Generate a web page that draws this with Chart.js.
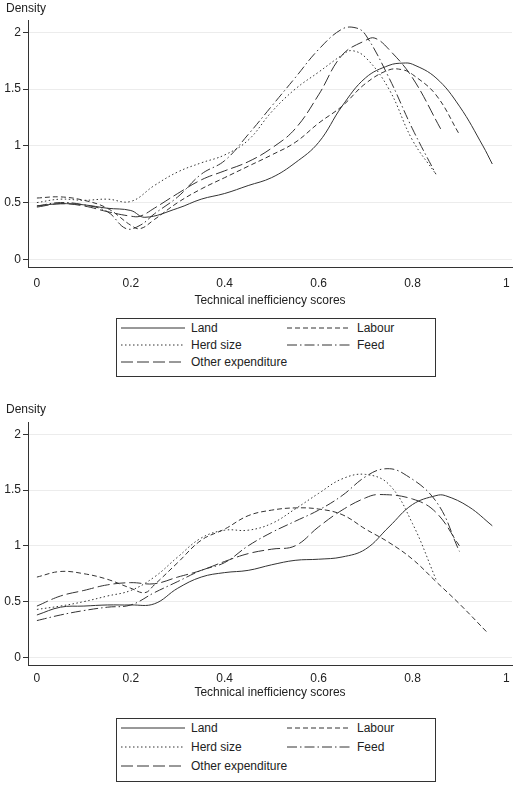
<!DOCTYPE html>
<html>
<head>
<meta charset="utf-8">
<script src="https://cdn.jsdelivr.net/npm/chart.js@4"></script>
<style>
  body { margin: 0; background: #fff; font-family: "Liberation Sans", Arial, sans-serif; color: #222; }
  .wrap { position: absolute; left: 0; width: 520px; }
  .dens { position: absolute; left: 6px; font-size: 12px; }
  .legend { position: absolute; left: 116px; width: 320px; border: 1px solid #333; font-size: 12px; box-sizing: border-box; }
  .item { position: absolute; display: flex; align-items: center; }
  .item svg { margin-right: 6px; }
</style>
</head>
<body>
<div class="wrap" style="top:0;height:308px"><canvas id="c1" width="520" height="308"></canvas></div>
<div class="dens" style="top:1px">Density</div>
<div class="legend" id="leg1" style="top:318px;height:59px"></div>

<div class="wrap" style="top:398px;height:302px"><canvas id="c2" width="520" height="302"></canvas></div>
<div class="dens" style="top:402px">Density</div>
<div class="legend" id="leg2" style="top:718px;height:64px"></div>

<script>
const xTicks = [0, 0.2, 0.4, 0.6, 0.8, 1];
const yTicks = [0, 0.5, 1, 1.5, 2];
const seriesNames = ['Land', 'Labour', 'Herd size', 'Feed', 'Other expenditure'];
const dashes = [[], [5, 3], [1.5, 2.5], [10, 3, 1.5, 3], [12, 4]];

// top panel
const landX1 = [0, 0.05, 0.1, 0.15, 0.2, 0.23, 0.3, 0.35, 0.4, 0.45, 0.5, 0.55, 0.6, 0.65, 0.7, 0.75, 0.78, 0.8, 0.85, 0.9, 0.95, 0.97];
const landY1 = [0.47, 0.49, 0.48, 0.45, 0.43, 0.37, 0.45, 0.53, 0.58, 0.65, 0.72, 0.85, 1.03, 1.35, 1.6, 1.71, 1.73, 1.72, 1.6, 1.35, 1.0, 0.84];
const labourX1 = [0, 0.05, 0.1, 0.15, 0.2, 0.22, 0.25, 0.3, 0.35, 0.4, 0.45, 0.5, 0.55, 0.6, 0.65, 0.7, 0.75, 0.78, 0.8, 0.85, 0.9];
const labourY1 = [0.54, 0.55, 0.52, 0.45, 0.3, 0.27, 0.35, 0.5, 0.62, 0.72, 0.82, 0.92, 1.03, 1.2, 1.35, 1.55, 1.67, 1.67, 1.63, 1.45, 1.1];
const herdX1 = [0, 0.05, 0.1, 0.15, 0.2, 0.25, 0.3, 0.35, 0.4, 0.45, 0.5, 0.55, 0.6, 0.65, 0.67, 0.7, 0.75, 0.8, 0.85];
const herdY1 = [0.5, 0.53, 0.52, 0.53, 0.51, 0.65, 0.77, 0.85, 0.92, 1.05, 1.3, 1.5, 1.65, 1.8, 1.84, 1.78, 1.5, 1.05, 0.75];
const feedX1 = [0, 0.05, 0.1, 0.15, 0.19, 0.22, 0.25, 0.3, 0.35, 0.4, 0.45, 0.5, 0.55, 0.6, 0.65, 0.68, 0.7, 0.75, 0.8, 0.85];
const feedY1 = [0.47, 0.5, 0.48, 0.42, 0.27, 0.3, 0.4, 0.55, 0.75, 0.87, 1.1, 1.35, 1.6, 1.85, 2.03, 2.04, 1.98, 1.6, 1.15, 0.75];
const otherX1 = [0, 0.05, 0.1, 0.15, 0.2, 0.22, 0.25, 0.3, 0.35, 0.4, 0.45, 0.5, 0.55, 0.6, 0.65, 0.7, 0.72, 0.75, 0.8, 0.86];
const otherY1 = [0.46, 0.49, 0.47, 0.42, 0.38, 0.38, 0.45, 0.58, 0.7, 0.78, 0.86, 0.98, 1.15, 1.45, 1.8, 1.93, 1.95, 1.85, 1.6, 1.15];

// bottom panel
const landX2 = [0, 0.05, 0.1, 0.15, 0.2, 0.25, 0.3, 0.35, 0.4, 0.45, 0.5, 0.55, 0.6, 0.65, 0.7, 0.75, 0.8, 0.85, 0.87, 0.92, 0.97];
const landY2 = [0.38, 0.45, 0.46, 0.47, 0.47, 0.48, 0.62, 0.72, 0.76, 0.78, 0.83, 0.87, 0.88, 0.9, 0.97, 1.17, 1.37, 1.45, 1.45, 1.35, 1.18];
const labourX2 = [0, 0.05, 0.1, 0.15, 0.2, 0.23, 0.25, 0.3, 0.35, 0.4, 0.45, 0.5, 0.55, 0.6, 0.65, 0.7, 0.75, 0.8, 0.85, 0.9, 0.96];
const labourY2 = [0.72, 0.77, 0.75, 0.7, 0.62, 0.58, 0.65, 0.85, 1.05, 1.15, 1.27, 1.32, 1.34, 1.33, 1.28, 1.15, 1.03, 0.88, 0.68, 0.48, 0.22];
const herdX2 = [0, 0.05, 0.1, 0.15, 0.2, 0.25, 0.3, 0.35, 0.4, 0.45, 0.5, 0.55, 0.6, 0.65, 0.7, 0.75, 0.8, 0.85];
const herdY2 = [0.43, 0.46, 0.5, 0.55, 0.6, 0.72, 0.9, 1.07, 1.14, 1.14, 1.2, 1.33, 1.47, 1.6, 1.64, 1.55, 1.2, 0.7];
const feedX2 = [0, 0.05, 0.1, 0.15, 0.2, 0.25, 0.3, 0.35, 0.4, 0.45, 0.5, 0.55, 0.6, 0.65, 0.7, 0.74, 0.78, 0.85, 0.9];
const feedY2 = [0.33, 0.38, 0.42, 0.45, 0.47, 0.58, 0.68, 0.78, 0.85, 1.0, 1.12, 1.22, 1.32, 1.45, 1.62, 1.69, 1.65, 1.4, 0.95];
const otherX2 = [0, 0.05, 0.1, 0.15, 0.2, 0.25, 0.3, 0.35, 0.4, 0.45, 0.5, 0.55, 0.6, 0.65, 0.7, 0.73, 0.8, 0.85, 0.9];
const otherY2 = [0.46, 0.55, 0.6, 0.65, 0.67, 0.66, 0.72, 0.78, 0.86, 0.93, 0.97, 1.0, 1.17, 1.32, 1.43, 1.46, 1.42, 1.3, 1.0];

const pts = (xs, ys) => xs.map((x, i) => ({ x: x, y: ys[i] }));

function makeChart(id, lists, padTop, tickPad) {
    const datasets = lists.map((l, i) => ({
        label: seriesNames[i],
        data: pts(l[0], l[1]),
        borderColor: '#333',
        borderWidth: 1,
        borderDash: dashes[i],
        pointRadius: 0,
        tension: 0.4,
        fill: false
    }));
    const font = { size: 12, family: 'Liberation Sans' };
    return new Chart(document.getElementById(id), {
        type: 'line',
        data: { datasets: datasets },
        options: {
            responsive: false,
            animation: false,
            layout: { padding: { top: padTop, right: 8, left: 0 } },
            plugins: { legend: { display: false }, tooltip: { enabled: false } },
            scales: {
                x: {
                    type: 'linear', min: -0.019, max: 1.012,
                    afterBuildTicks: (ax) => { ax.ticks = xTicks.map(v => ({ value: v })); },
                    grid: { display: false, tickLength: 6, color: '#333' },
                    border: { color: '#333' },
                    ticks: { color: '#222', font: font, padding: tickPad, callback: (v) => String(v) },
                    title: { display: true, text: 'Technical inefficiency scores', color: '#222', font: font, padding: 0 }
                },
                y: {
                    min: -0.07, max: 2.11,
                    afterBuildTicks: (ax) => { ax.ticks = yTicks.map(v => ({ value: v })); },
                    afterFit: (ax) => { ax.width = 28; },
                    grid: { color: '#ececec', tickColor: '#333', tickLength: 5 },
                    border: { color: '#333' },
                    ticks: { color: '#222', font: font, padding: 2, callback: (v) => String(v) }
                }
            }
        }
    });
}

makeChart('c1', [[landX1, landY1], [labourX1, labourY1], [herdX1, herdY1], [feedX1, feedY1], [otherX1, otherY1]], 20, 3);
makeChart('c2', [[landX2, landY2], [labourX2, labourY2], [herdX2, herdY2], [feedX2, feedY2], [otherX2, otherY2]], 24, 0);

function makeLegend(id, rowGap) {
    const pos = [[4, 0], [170, 0], [4, 1], [170, 1], [4, 2]];
    const el = document.getElementById(id);
    seriesNames.forEach((n, i) => {
        const d = document.createElement('div');
        d.className = 'item';
        d.style.left = pos[i][0] + 'px';
        d.style.top = (2 + pos[i][1] * rowGap) + 'px';
        d.innerHTML = '<svg width="64" height="10"><line x1="0" y1="5" x2="64" y2="5" stroke="#333" stroke-width="1" stroke-dasharray="' +
            (dashes[i].length ? dashes[i].join(',') : 'none') + '"/></svg>' + n;
        el.appendChild(d);
    });
}
makeLegend('leg1', 17);
makeLegend('leg2', 19);
</script>
</body>
</html>
